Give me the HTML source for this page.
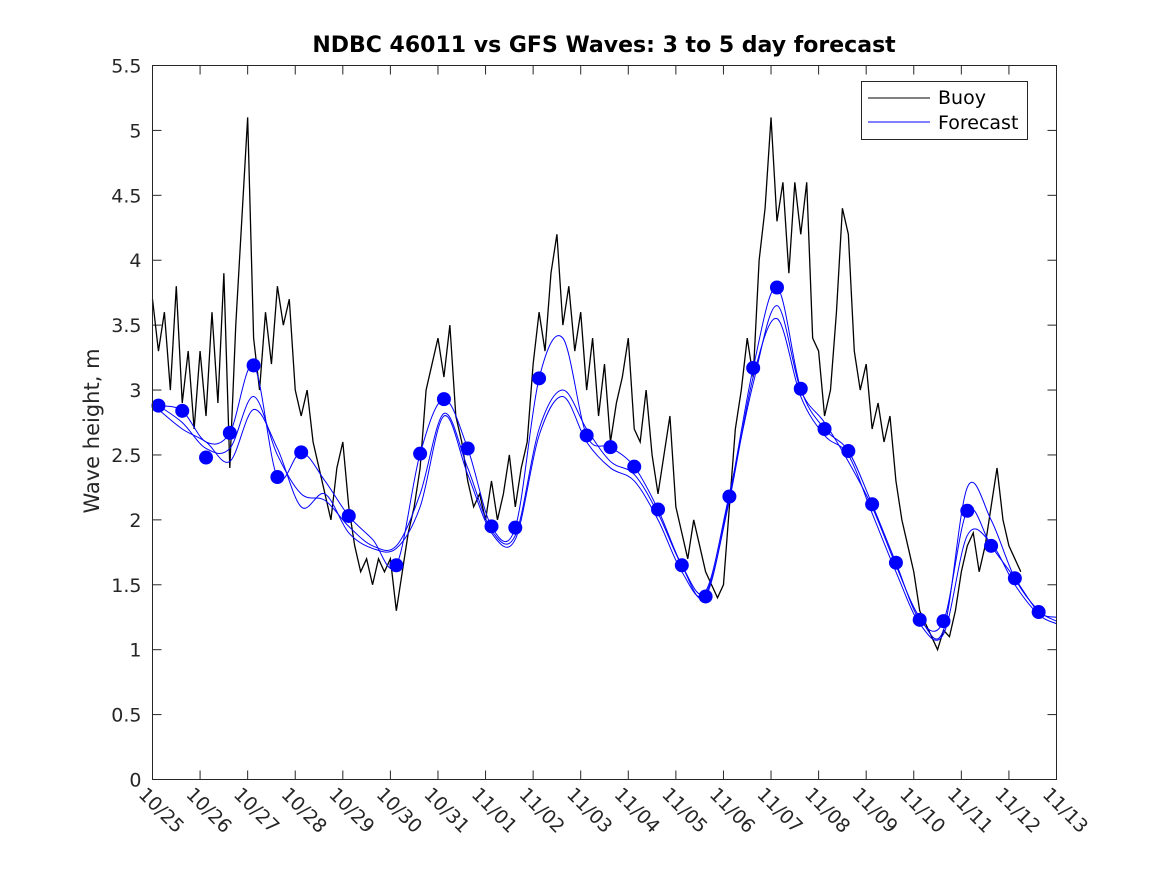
<!DOCTYPE html>
<html><head><meta charset="utf-8"><style>
body{margin:0;background:#fff;}
svg text{font-family:"DejaVu Sans","Liberation Sans",sans-serif;fill:#262626;}
</style></head><body>
<svg id="chart" width="1167" height="875" viewBox="0 0 1167 875" xmlns="http://www.w3.org/2000/svg">
<rect width="1167" height="875" fill="#fff"/>
<text x="604" y="52" text-anchor="middle" font-size="22" font-weight="bold" style="fill:#000">NDBC 46011 vs GFS Waves: 3 to 5 day forecast</text>
<text transform="translate(99,431) rotate(-90)" text-anchor="middle" font-size="21">Wave height, m</text>
<g id="grid"></g>
<g id="series"></g>
<rect x="152.5" y="65.5" width="904" height="714" fill="none" stroke="#262626" stroke-width="1"/>
<g>
<rect x="861.5" y="81.5" width="166" height="58" fill="#fff" stroke="#262626"/>
<line x1="868" y1="98" x2="930" y2="98" stroke="#000"/>
<text x="938" y="104" font-size="19" style="fill:#000">Buoy</text>
<line x1="868" y1="122" x2="930" y2="122" stroke="#00f"/>
<text x="938" y="129" font-size="19" style="fill:#000">Forecast</text>
</g>
</svg>
<script>
const xTickLabels=["10/25","10/26","10/27","10/28","10/29","10/30","10/31","11/01","11/02","11/03","11/04","11/05","11/06","11/07","11/08","11/09","11/10","11/11","11/12","11/13"];
const yTicks=[0,0.5,1,1.5,2,2.5,3,3.5,4,4.5,5,5.5];
const yTickLabels=["0","0.5","1","1.5","2","2.5","3","3.5","4","4.5","5","5.5"];
const buoyStep=0.125;
const buoyValues=[3.7,3.3,3.6,3.0,3.8,2.9,3.3,2.7,
3.3,2.8,3.6,2.9,3.9,2.4,3.5,4.3,
5.1,3.4,3.0,3.6,3.2,3.8,3.5,3.7,
3.0,2.8,3.0,2.6,2.4,2.2,2.0,2.4,
2.6,2.1,1.8,1.6,1.7,1.5,1.7,1.6,
1.7,1.3,1.6,1.9,2.1,2.4,3.0,3.2,
3.4,3.1,3.5,2.8,2.6,2.3,2.1,2.2,
2.0,2.3,2.0,2.2,2.5,2.1,2.4,2.6,
3.2,3.6,3.3,3.9,4.2,3.5,3.8,3.3,
3.6,3.0,3.4,2.8,3.2,2.6,2.9,3.1,
3.4,2.7,2.6,3.0,2.5,2.2,2.5,2.8,
2.1,1.9,1.7,2.0,1.8,1.6,1.5,1.4,
1.5,2.1,2.7,3.0,3.4,3.1,4.0,4.4,
5.1,4.3,4.6,3.9,4.6,4.2,4.6,3.4,
3.3,2.8,3.0,3.6,4.4,4.2,3.3,3.0,
3.2,2.7,2.9,2.6,2.8,2.3,2.0,1.8,
1.6,1.3,1.2,1.1,1.0,1.15,1.1,1.3,
1.6,1.8,1.9,1.6,1.8,2.1,2.4,2.0,
1.8,1.7,1.6];
const forecastDays=[0.125,0.625,1.125,1.625,2.125,2.625,3.125,3.625,4.125,4.625,5.125,5.625,6.125,6.625,7.125,7.625,8.125,8.625,9.125,9.625,10.125,10.625,11.125,11.625,12.125,12.625,13.125,13.625,14.125,14.625,15.125,15.625,16.125,16.625,17.125,17.625,18.125,18.625,19.0];
const forecastRunA=[2.88,2.84,2.60,2.67,3.19,2.33,2.52,2.30,2.03,1.85,1.65,2.51,2.93,2.55,1.95,1.94,3.09,3.40,2.65,2.56,2.41,2.08,1.65,1.41,2.18,3.17,3.79,3.01,2.70,2.53,2.12,1.67,1.23,1.22,2.07,1.80,1.55,1.29,1.25];
const forecastRunB=[2.88,2.75,2.55,2.55,2.95,2.50,2.20,2.15,1.95,1.80,1.80,2.20,2.82,2.40,1.92,1.88,2.70,3.00,2.70,2.45,2.35,2.05,1.65,1.45,2.20,3.05,3.65,3.00,2.75,2.45,2.10,1.65,1.25,1.15,2.25,2.00,1.55,1.30,1.22];
const forecastRunC=[2.85,2.70,2.60,2.45,2.85,2.55,2.10,2.20,1.90,1.78,1.78,2.10,2.80,2.35,1.90,1.85,2.65,2.95,2.60,2.40,2.30,2.00,1.60,1.43,2.15,3.10,3.55,2.95,2.65,2.50,2.05,1.60,1.20,1.12,1.88,1.82,1.50,1.27,1.20];
const dotDays=[0.125,0.625,1.125,1.625,2.125,2.625,3.125,4.125,5.125,5.625,6.125,6.625,7.125,7.625,8.125,9.125,9.625,10.125,10.625,11.125,11.625,12.125,12.625,13.125,13.625,14.125,14.625,15.125,15.625,16.125,16.625,17.125,17.625,18.125,18.625];
const dotValues=[2.88,2.84,2.48,2.67,3.19,2.33,2.52,2.03,1.65,2.51,2.93,2.55,1.95,1.94,3.09,2.65,2.56,2.41,2.08,1.65,1.41,2.18,3.17,3.79,3.01,2.70,2.53,2.12,1.67,1.23,1.22,2.07,1.80,1.55,1.29];

const NS="http://www.w3.org/2000/svg";
const X0=152.5,X1=1056.5,Y0=779.5,Y1=65.5,DMAX=19,VMAX=5.5;
function xs(d){return X0+(X1-X0)*d/DMAX;}
function ys(v){return Y0-(Y0-Y1)*v/VMAX;}
function mk(tag,attrs,parent){const e=document.createElementNS(NS,tag);for(const k in attrs)e.setAttribute(k,attrs[k]);parent.appendChild(e);return e;}
const grid=document.getElementById('grid'),ser=document.getElementById('series');
xTickLabels.forEach((lab,i)=>{
  const x=xs(i);
  const t1=mk('line',{x1:x,y1:Y0,x2:x,y2:Y0-9,stroke:'#262626'},grid);
  
  
  const t2=mk('line',{x1:x,y1:Y1,x2:x,y2:Y1+9,stroke:'#262626'},grid);
  
  
  const tx=mk('text',{transform:`translate(${x-15},${Y0+16}) rotate(45)`,'font-size':19},grid);
  tx.textContent=lab;
  
  
});
yTicks.forEach((v,i)=>{
  const y=ys(v);
  const t1=mk('line',{x1:X0,y1:y,x2:X0+9,y2:y,stroke:'#262626'},grid);
  
  
  const t2=mk('line',{x1:X1,y1:y,x2:X1-9,y2:y,stroke:'#262626'},grid);
  
  
  const tx=mk('text',{x:X0-11,y:y+7,'text-anchor':'end','font-size':19},grid);
  tx.textContent=yTickLabels[i];
  
  
});
function smooth(pts){
  let d=`M${pts[0][0]},${pts[0][1]}`;
  for(let i=0;i<pts.length-1;i++){
    const p0=pts[Math.max(0,i-1)],p1=pts[i],p2=pts[i+1],p3=pts[Math.min(pts.length-1,i+2)];
    const c1=[p1[0]+(p2[0]-p0[0])/6,p1[1]+(p2[1]-p0[1])/6],c2=[p2[0]-(p3[0]-p1[0])/6,p2[1]-(p3[1]-p1[1])/6];
    d+=` C${c1[0]},${c1[1]} ${c2[0]},${c2[1]} ${p2[0]},${p2[1]}`;
  }
  return d;
}
const bp=buoyValues.map((v,i)=>`${xs(i*buoyStep)},${ys(v)}`).join(' ');
const bl=mk('polyline',{points:bp,fill:'none',stroke:'#000','stroke-width':1.3},ser);


[forecastRunA,forecastRunB,forecastRunC].forEach((run,ri)=>{
  const pts=run.map((v,i)=>[xs(Math.min(forecastDays[i],DMAX)),ys(v)]);
  const p=mk('path',{d:smooth(pts),fill:'none',stroke:'#0000ff','stroke-width':1},ser);
  
  
});
dotValues.forEach((v,i)=>{
  const c=mk('circle',{cx:xs(dotDays[i]),cy:ys(v),r:7,fill:'#0000ff'},ser);
  
  
});
</script>
</body></html>
